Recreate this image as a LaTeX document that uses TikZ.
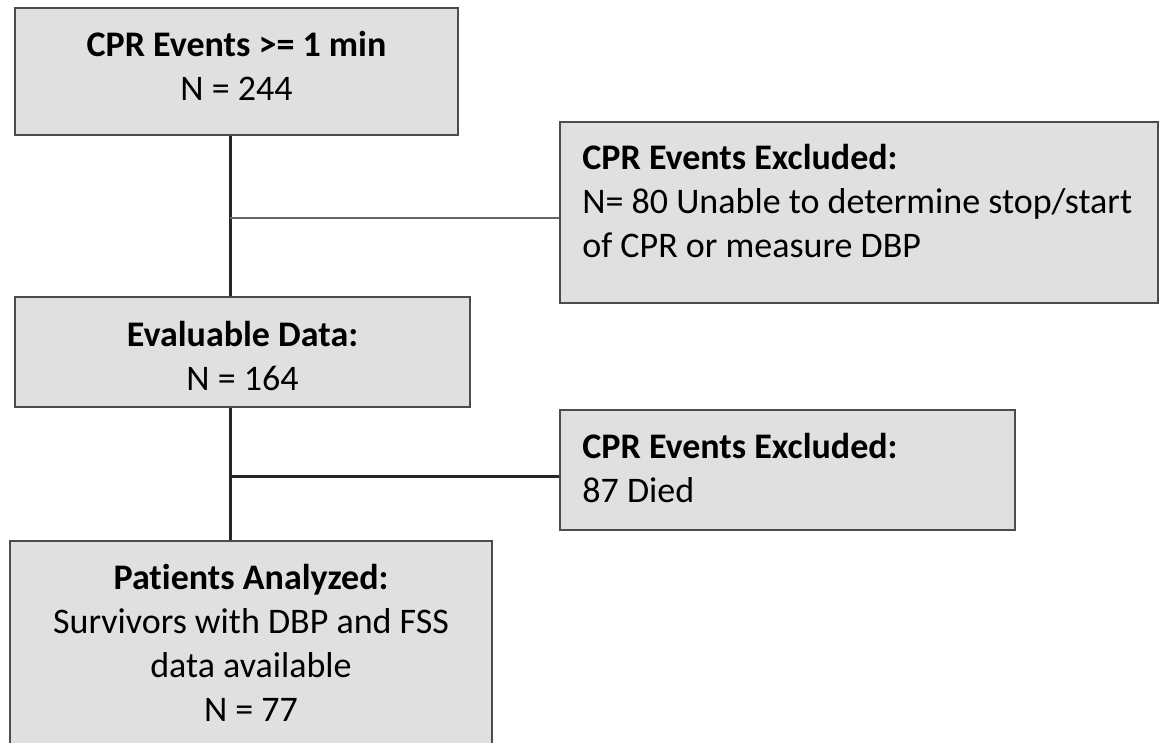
\documentclass[tikz,border=0pt]{standalone}
\usepackage{fontspec}
\setmainfont{Carlito}[Ligatures=NoCommon]
\usetikzlibrary{positioning,calc}
\begin{document}
\begin{tikzpicture}[x=0.5pt,y=-0.5pt,
    flowBox/.style={draw=black!70,line width=1pt,fill=black!12,inner sep=0pt},
    flowText/.style={inner sep=0pt,font=\fontsize{18pt}{22pt}\selectfont},
    flowSpine/.style={draw=black!85,line width=1.5pt},
    flowBranch/.style={draw=black!60,line width=1pt},
]
\useasboundingbox (0,0) rectangle (1160,743);
\clip (0,0) rectangle (1160,743);
% Boxes
\node[flowBox,minimum width=221.5pt,minimum height=63.5pt] (events) at (236.5,71.5) {};
\node[flowBox,minimum width=299pt,minimum height=90.5pt] (exclA) at (859,212.5) {};
\node[flowBox,minimum width=227.5pt,minimum height=55pt] (evaluable) at (242.5,352) {};
\node[flowBox,minimum width=227.5pt,minimum height=60pt] (exclB) at (787.5,470) {};
\node[flowBox,minimum width=241pt,minimum height=114.5pt] (analyzed) at (251,655.5) {};
% Texts
\node[flowText,align=center,anchor=north] (eventsTxt) at ([yshift=-12pt]events.north)
    {\textbf{CPR Events >= 1 min}\\N = 244};
\node[flowText,align=left,anchor=north west] (exclATxt) at ([xshift=11.5pt,yshift=-11.5pt]exclA.north west)
    {\textbf{CPR Events Excluded:}\\N= 80 Unable to determine stop/start\\of CPR or measure DBP};
\node[flowText,align=center,anchor=north] (evaluableTxt) at ([yshift=-12.5pt]evaluable.north)
    {\textbf{Evaluable Data:}\\N = 164};
\node[flowText,align=left,anchor=north west] (exclBTxt) at ([xshift=11.5pt,yshift=-12pt]exclB.north west)
    {\textbf{CPR Events Excluded:}\\87 Died};
\node[flowText,align=center,anchor=north] (analyzedTxt) at ([yshift=-12pt]analyzed.north)
    {\textbf{Patients Analyzed:}\\Survivors with DBP and FSS\\data available\\N = 77};
% Spine and branches
\coordinate (spine) at (230,0);
\coordinate (jointA) at (230,218);
\coordinate (jointB) at (230,476);
\draw[flowSpine] (events.south -| spine) -- (evaluable.north -| spine);
\draw[flowSpine] (evaluable.south -| spine) -- (analyzed.north -| spine);
\draw[flowBranch] (jointA) -- (jointA -| exclA.west);
\draw[flowSpine] (jointB) -- (jointB -| exclB.west);
\end{tikzpicture}
\end{document}
